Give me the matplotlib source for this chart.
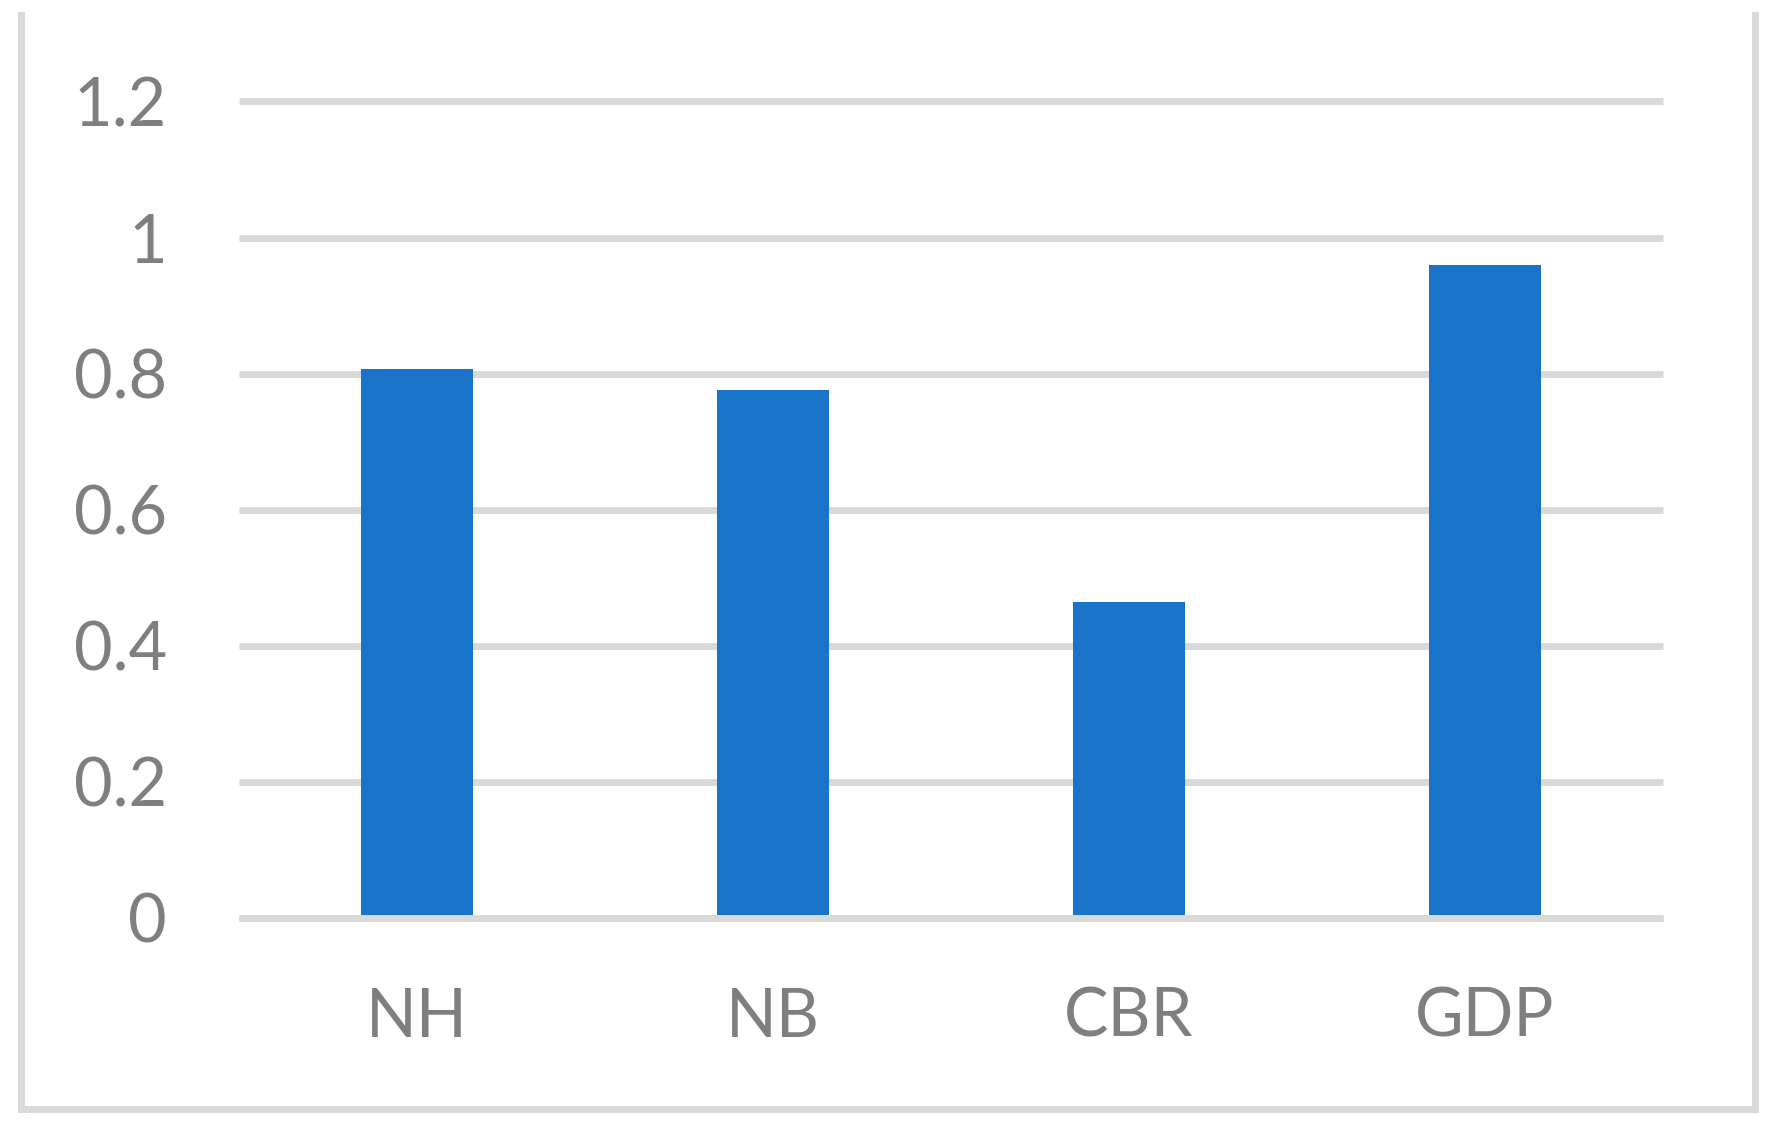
import matplotlib
matplotlib.use("Agg")
import matplotlib.pyplot as plt
from matplotlib.lines import Line2D

matplotlib.rc("font", family=["Lato", "DejaVu Sans"])

# data
categories = ["NH", "NB", "CBR", "GDP"]
values = [0.807, 0.776, 0.464, 0.96]
yticks = [0, 0.2, 0.4, 0.6, 0.8, 1, 1.2]
ytick_labels = ["0", "0.2", "0.4", "0.6", "0.8", "1", "1.2"]

bar_color = "#1873C9"
grid_color = "#D9D9D9"
text_color = "#7F7F7F"

fig = plt.figure(figsize=(17.71, 11.24), dpi=100)
ax = fig.add_axes([0.135, 0.1837, 0.804, 0.726])

ax.bar(range(len(categories)), values, width=0.315, color=bar_color, zorder=2)

ax.set_xlim(-0.5, len(categories) - 0.5)
ax.set_ylim(0, 1.2)
ax.set_yticks(yticks)
ax.set_yticklabels(ytick_labels)
ax.set_xticks(range(len(categories)))
ax.set_xticklabels(categories)

ax.tick_params(axis="both", length=0, labelsize=48, labelcolor=text_color)
ax.tick_params(axis="y", pad=52)
ax.tick_params(axis="x", pad=50)

ax.yaxis.grid(True, color=grid_color, linewidth=5.0)
ax.set_axisbelow(True)
for gl in ax.get_ygridlines():
    gl.set_clip_on(False)
    gl.set_solid_capstyle("butt")
ax.axhline(0, color=grid_color, linewidth=5.0, zorder=3, clip_on=False,
           solid_capstyle="butt")

for s in ax.spines.values():
    s.set_visible(False)

# outer border (left, bottom, right)
W, H = 1771, 1124
lw = 5.0
fig.add_artist(Line2D([20.5 / W, 20.5 / W], [1 - 15 / H, 1 - 1109 / H], color=grid_color, lw=lw))
fig.add_artist(Line2D([20.5 / W, 1754.5 / W], [1 - 1109 / H, 1 - 1109 / H], color=grid_color, lw=lw))
fig.add_artist(Line2D([1754.5 / W, 1754.5 / W], [1 - 15 / H, 1 - 1109 / H], color=grid_color, lw=lw))

fig.savefig("out.png", dpi=100, facecolor="white")
